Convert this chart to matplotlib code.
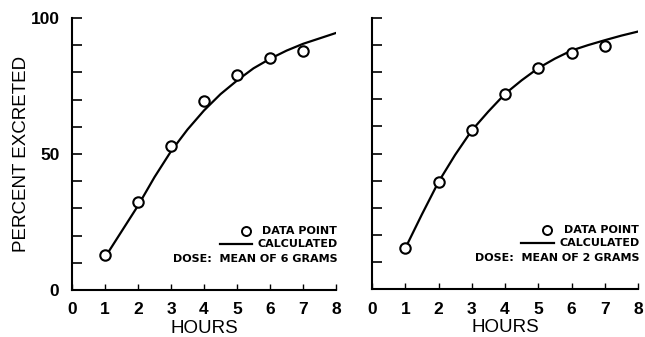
import matplotlib
matplotlib.use("Agg")
import matplotlib.pyplot as plt
from matplotlib import font_manager

names = {f.name for f in font_manager.fontManager.ttflist}
narrow = 'Liberation Sans Narrow' if 'Liberation Sans Narrow' in names else 'Liberation Sans'
plt.rcParams['font.family'] = ['Liberation Sans', 'DejaVu Sans']

hours = [1, 2, 3, 4, 5, 6, 7]
left_points = [13, 32.5, 53, 69.6, 79, 85.2, 88]
right_points = [15, 39.4, 58.7, 71.8, 81.4, 87, 89.7]

curve_hours = [1, 1.5, 2, 2.5, 3, 3.5, 4, 4.5, 5, 5.5, 6, 6.5, 7, 7.5, 8]
left_curve = [12, 21.5, 31, 41.5, 51, 59, 66, 72, 77, 81.5, 85, 88, 90.5, 92.5, 94.5]
right_curve = [15, 27.5, 39.5, 49.5, 58.5, 65.5, 72, 77, 81.5, 85, 88, 90, 91.8, 93.5, 95]

x_ticks = [0, 1, 2, 3, 4, 5, 6, 7, 8]
y_ticks_major = [0, 50, 100]
y_ticks_minor = [10, 20, 30, 40, 60, 70, 80, 90]
doses = ["DOSE:  MEAN OF 6 GRAMS", "DOSE:  MEAN OF 2 GRAMS"]

fig = plt.figure(figsize=(6.45, 3.37), dpi=100)
ax1 = fig.add_axes([72/645, 47/337, 264/645, 272/337])
ax2 = fig.add_axes([372/645, 48/337, 266/645, 271/337])

tick_font = dict(family=narrow, size=12.5, weight='bold')

for ax, pts, cur, dose, show_y in [(ax1, left_points, left_curve, doses[0], True),
                                   (ax2, right_points, right_curve, doses[1], False)]:
    ax.plot(curve_hours, cur, color='black', lw=1.6, zorder=2)
    ax.plot(hours, pts, 'o', ms=7.5, mfc='white', mec='black', mew=1.5, zorder=3)
    ax.set_xlim(0, 8)
    ax.set_ylim(0, 100)
    for s in ['top', 'right']:
        ax.spines[s].set_visible(False)
    for s in ['left', 'bottom']:
        ax.spines[s].set_linewidth(1.5)
    ax.set_xticks(x_ticks)
    ax.set_xticklabels([str(t) for t in x_ticks], fontdict=tick_font)
    ax.set_yticks(y_ticks_major)
    ax.set_yticks(y_ticks_minor, minor=True)
    if show_y:
        ax.set_yticklabels([str(t) for t in y_ticks_major], fontdict=tick_font)
        ax.set_ylabel("PERCENT EXCRETED", fontsize=13.5, labelpad=0)
    else:
        ax.set_yticklabels([])
    ax.tick_params(axis='y', which='both', direction='in', length=7, width=1.2, pad=9)
    ax.tick_params(axis='x', direction='in', length=4, width=1.0, pad=9)
    ax.set_xlabel("HOURS", fontsize=13.5, labelpad=2)
    # legend
    tx = 1.005
    fs = 8
    ax.text(tx, 0.218, "DATA POINT", transform=ax.transAxes, ha='right', va='center',
            fontsize=fs, fontweight='bold', family='DejaVu Sans')
    ax.plot([0.658], [0.218], 'o', transform=ax.transAxes, ms=6.5, mfc='white',
            mec='black', mew=1.4, clip_on=False)
    ax.text(tx, 0.170, "CALCULATED", transform=ax.transAxes, ha='right', va='center',
            fontsize=fs, fontweight='bold', family='DejaVu Sans')
    ax.plot([0.56, 0.683], [0.170, 0.170], transform=ax.transAxes, color='black', lw=1.6,
            clip_on=False)
    ax.text(tx, 0.114, dose, transform=ax.transAxes, ha='right', va='center',
            fontsize=fs, fontweight='bold', family='DejaVu Sans')

fig.savefig("out.png", dpi=100)
